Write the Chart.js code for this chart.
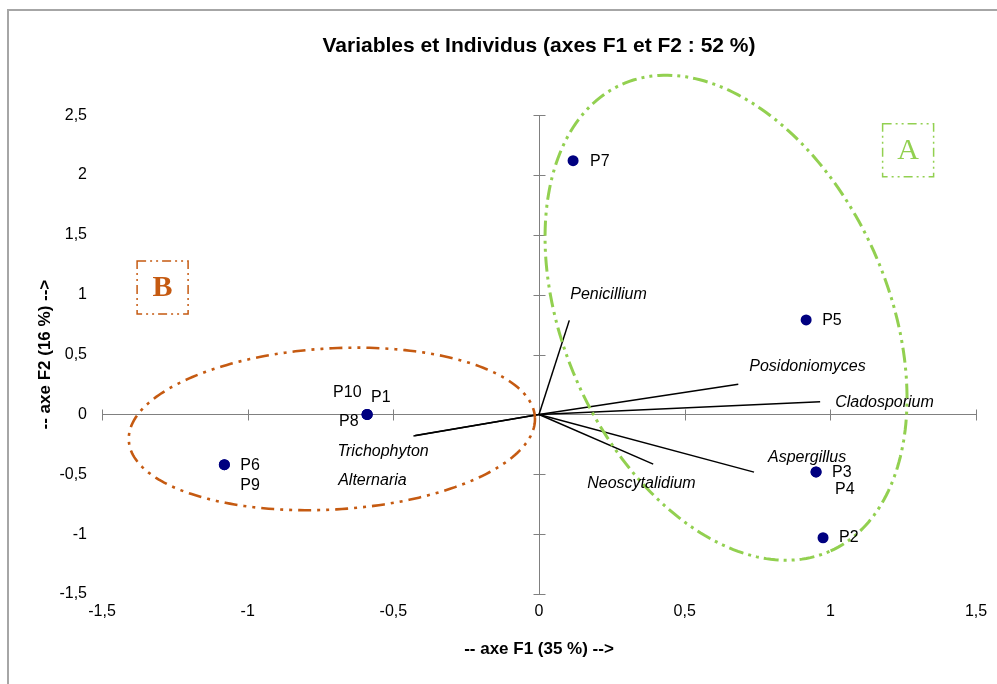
<!DOCTYPE html>
<html>
<head>
<meta charset="utf-8">
<script src="https://cdn.jsdelivr.net/npm/chart.js@4.4.1/dist/chart.umd.min.js"></script>
<style>
  html, body { margin: 0; padding: 0; background: #fff; }
  canvas { display: block; }
</style>
</head>
<body>
<canvas id="pcaChart" width="997" height="684"></canvas>
<script>
// individus (observations)
const individus = ['P1', 'P2', 'P3', 'P4', 'P5', 'P6', 'P7', 'P8', 'P9', 'P10']
const indF1 = [-0.59, 0.975, 0.951, 0.951, 0.917, -1.08, 0.117, -0.59, -1.08, -0.59]
const indF2 = [0.0, -1.03, -0.48, -0.48, 0.79, -0.42, 2.12, 0.0, -0.42, 0.0]

// variables (vecteurs depuis l'origine)
const variables = ['Penicillium', 'Posidoniomyces', 'Cladosporium', 'Aspergillus', 'Neoscytalidium', 'Trichophyton', 'Alternaria']
const varF1 = [0.104, 0.684, 0.965, 0.738, 0.392, -0.431, -0.425]
const varF2 = [0.786, 0.253, 0.107, -0.482, -0.415, -0.180, -0.176]

const xTicks = [-1.5, -1, -0.5, 0, 0.5, 1, 1.5]
const xTickLabels = ['-1,5', '-1', '-0,5', '0', '0,5', '1', '1,5']
const yTicks = [-1.5, -1, -0.5, 0, 0.5, 1, 1.5, 2, 2.5]
const yTickLabels = ['-1,5', '-1', '-0,5', '0', '0,5', '1', '1,5', '2', '2,5']

// label offsets in px (left edge, vertical middle) from each mark
const indLabelOffsets = [[4, -17], [16, 0], [16, 1], [19, 18], [16, 1], [16, 1], [17, 1], [-28, 7], [16, 21], [-34, -22]]
const varLabelOffsets = [[1, -26], [11, -18], [15, 1], [14, -15], [-66, 19], [-76, 16], [-77, 45]]

// groupes : ellipse en unités d'axe (centre + deux demi-diamètres conjugués)
const groupA = { name: 'A', color: '#92d050', center: [0.642, 0.808], u: [0.359, -1.948], v: [0.507, 0.556], tag: [1.267, 2.207], bold: false }
const groupB = { name: 'B', color: '#c55a11', center: [-0.711, -0.121], u: [0.697, 0.098], v: [0.0165, -0.672], tag: [-1.292, 1.06], bold: true }

Chart.defaults.font.family = '"Liberation Sans", Arial, sans-serif'
Chart.defaults.color = '#000'

const frame = {
  id: 'frame',
  beforeDraw(chart) {
    const ctx = chart.ctx
    ctx.save()
    ctx.fillStyle = '#fff'
    ctx.fillRect(0, 0, chart.width, chart.height)
    ctx.strokeStyle = '#a6a6a6'
    ctx.lineWidth = 2
    ctx.beginPath()
    ctx.moveTo(8, chart.height)
    ctx.lineTo(8, 10)
    ctx.lineTo(chart.width, 10)
    ctx.stroke()
    ctx.restore()
  }
}

// axes qui se croisent en (0, 0) avec graduations traversantes
const crossAxes = {
  id: 'crossAxes',
  beforeDatasetsDraw(chart) {
    const { ctx, scales: { x, y } } = chart
    const x0 = Math.round(x.getPixelForValue(0)) + 0.5
    const y0 = Math.round(y.getPixelForValue(0)) + 0.5
    ctx.save()
    ctx.strokeStyle = '#808080'
    ctx.lineWidth = 1
    ctx.beginPath()
    ctx.moveTo(x.getPixelForValue(xTicks[0]), y0)
    ctx.lineTo(x.getPixelForValue(xTicks[xTicks.length - 1]), y0)
    ctx.moveTo(x0, y.getPixelForValue(yTicks[0]))
    ctx.lineTo(x0, y.getPixelForValue(yTicks[yTicks.length - 1]))
    xTicks.forEach(v => {
      const px = Math.round(x.getPixelForValue(v)) + 0.5
      ctx.moveTo(px, y0 - 5)
      ctx.lineTo(px, y0 + 6)
    })
    yTicks.forEach(v => {
      const py = Math.round(y.getPixelForValue(v)) + 0.5
      ctx.moveTo(x0 - 6, py)
      ctx.lineTo(x0 + 6, py)
    })
    ctx.stroke()
    ctx.restore()
  }
}

function dashBox(ctx, cx, cy, w, h, color) {
  ctx.save()
  ctx.strokeStyle = color
  ctx.lineWidth = 1.5
  ctx.setLineDash([9, 4, 2, 4, 2, 4])
  ctx.strokeRect(cx - w / 2, cy - h / 2, w, h)
  ctx.restore()
}

const groups = {
  id: 'groups',
  afterDatasetsDraw(chart) {
    const { ctx, scales: { x, y } } = chart
    ;[groupA, groupB].forEach((g, k) => {
      const cx = x.getPixelForValue(g.center[0])
      const cy = y.getPixelForValue(g.center[1])
      const ux = x.getPixelForValue(g.center[0] + g.u[0]) - cx
      const uy = y.getPixelForValue(g.center[1] + g.u[1]) - cy
      const vx = x.getPixelForValue(g.center[0] + g.v[0]) - cx
      const vy = y.getPixelForValue(g.center[1] + g.v[1]) - cy
      ctx.save()
      ctx.strokeStyle = g.color
      ctx.lineWidth = k === 0 ? 3 : 2.6
      ctx.setLineDash(k === 0 ? [15, 5, 3, 5, 3, 5] : [13, 6, 3, 6, 3, 6])
      ctx.beginPath()
      for (let i = 0; i <= 240; i++) {
        const t = i / 240 * Math.PI * 2
        const px = cx + ux * Math.cos(t) + vx * Math.sin(t)
        const py = cy + uy * Math.cos(t) + vy * Math.sin(t)
        if (i === 0) ctx.moveTo(px, py)
        else ctx.lineTo(px, py)
      }
      ctx.stroke()
      ctx.restore()

      // étiquette du groupe
      const tx = x.getPixelForValue(g.tag[0])
      const ty = y.getPixelForValue(g.tag[1])
      dashBox(ctx, tx, ty, 51, 53, g.color)
      ctx.save()
      ctx.fillStyle = g.color
      ctx.font = (g.bold ? 'bold ' : '') + '30px "Liberation Serif", "Times New Roman", serif'
      ctx.textAlign = 'center'
      ctx.textBaseline = 'middle'
      ctx.fillText(g.name, tx, ty + 1)
      ctx.restore()
    })
  }
}

const labels = {
  id: 'labels',
  afterDatasetsDraw(chart) {
    const { ctx, scales: { x, y } } = chart
    ctx.save()
    ctx.fillStyle = '#000'
    ctx.textAlign = 'left'
    ctx.textBaseline = 'middle'
    ctx.font = '16px "Liberation Sans", Arial, sans-serif'
    individus.forEach((name, i) => {
      const px = x.getPixelForValue(indF1[i]) + indLabelOffsets[i][0]
      const py = y.getPixelForValue(indF2[i]) + indLabelOffsets[i][1]
      ctx.fillText(name, px, py)
    })
    ctx.font = 'italic 16px "Liberation Sans", Arial, sans-serif'
    variables.forEach((name, i) => {
      const px = x.getPixelForValue(varF1[i]) + varLabelOffsets[i][0]
      const py = y.getPixelForValue(varF2[i]) + varLabelOffsets[i][1]
      ctx.fillText(name, px, py)
    })
    ctx.restore()
  }
}

const vectorSets = variables.map((name, i) => ({
  label: name,
  data: [{ x: 0, y: 0 }, { x: varF1[i], y: varF2[i] }],
  showLine: true,
  borderColor: '#000',
  borderWidth: 1.5,
  pointRadius: 0,
  fill: false
}))

const pointSet = {
  label: 'Individus',
  data: indF1.map((v, i) => ({ x: v, y: indF2[i] })),
  backgroundColor: '#000080',
  borderWidth: 0,
  pointRadius: 5.5
}

function tickText(ticksArr, labelsArr) {
  return value => {
    let best = 0
    ticksArr.forEach((t, i) => { if (Math.abs(t - value) < Math.abs(ticksArr[best] - value)) best = i })
    return labelsArr[best]
  }
}

new Chart(document.getElementById('pcaChart'), {
  type: 'scatter',
  data: { datasets: [...vectorSets, pointSet] },
  options: {
    responsive: false,
    animation: false,
    events: [],
    layout: { padding: { left: 0, right: 21, top: 0, bottom: 0 } },
    plugins: {
      legend: { display: false },
      tooltip: { enabled: false },
      title: {
        display: true,
        fullSize: false,
        text: 'Variables et Individus (axes F1 et F2 : 52 %)',
        font: { size: 21, weight: 'bold' },
        padding: { top: 34, bottom: 56 }
      }
    },
    scales: {
      x: {
        type: 'linear',
        min: -1.5,
        max: 1.5,
        grid: { display: false, drawTicks: false },
        border: { display: false },
        ticks: { stepSize: 0.5, padding: 8, font: { size: 16 }, callback: tickText(xTicks, xTickLabels), maxRotation: 0 },
        title: { display: true, text: '-- axe F1 (35 %) -->', font: { size: 17, weight: 'bold' }, padding: { top: 0, bottom: 24 } },
        afterFit(scale) { scale.height = 90 }
      },
      y: {
        type: 'linear',
        min: -1.5,
        max: 2.5,
        grid: { display: false, drawTicks: false },
        border: { display: false },
        ticks: { stepSize: 0.5, padding: 15, font: { size: 16 }, callback: tickText(yTicks, yTickLabels) },
        title: { display: true, text: '-- axe F2 (16 %) -->', font: { size: 17, weight: 'bold' }, padding: { top: 35, bottom: 0 } },
        afterFit(scale) { scale.width = 102 }
      }
    }
  },
  plugins: [frame, crossAxes, groups, labels]
})
</script>
</body>
</html>
